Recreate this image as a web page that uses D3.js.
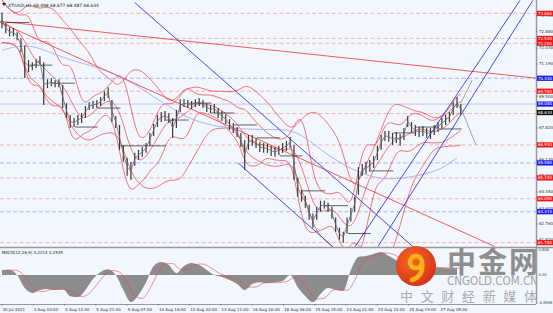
<!DOCTYPE html>
<html><head><meta charset="utf-8">
<script src="https://cdn.jsdelivr.net/npm/d3@7"></script>
<style>html,body{margin:0;padding:0;background:#fff}svg{display:block}</style>
</head><body><svg id="c" width="553" height="313"></svg>
<script>
// ---- price samples (every 4 H1 bars) ----
const hi = [73.91,73.38,73.12,73.07,72.86,72.54,72.18,71.39,71.28,71.44,71.60,71.28,70.39,70.45,70.34,70.39,70.08,69.13,68.50,68.35,68.50,68.61,68.98,69.18,69.24,69.29,69.45,69.76,69.97,69.29,68.45,67.98,66.93,66.25,66.04,66.51,66.67,66.82,67.03,67.56,68.03,68.50,68.66,68.71,68.61,68.35,68.77,69.34,69.34,69.29,69.24,69.34,69.40,69.29,69.13,69.03,69.08,68.87,68.71,68.55,68.29,68.08,67.87,67.56,67.19,67.45,67.45,67.30,67.09,67.03,66.98,66.88,66.82,66.88,67.03,67.14,67.35,66.93,65.20,64.57,64.25,63.78,63.31,63.67,63.99,63.99,63.88,63.67,63.10,62.57,62.36,63.10,63.62,64.20,65.77,65.93,66.04,66.14,66.35,66.88,67.45,67.66,67.66,67.56,67.61,67.51,67.82,68.45,68.14,67.98,67.87,67.93,67.82,67.82,67.98,68.14,68.35,68.50,68.66,69.18,69.45,69.08];
const lo = [73.07,72.81,72.65,72.65,72.44,71.81,70.45,70.76,70.86,70.97,71.18,69.03,69.92,70.02,69.97,69.97,68.87,68.35,67.82,67.87,67.98,68.08,68.35,68.77,68.82,68.87,68.98,69.24,69.40,68.14,67.82,66.67,66.04,65.30,65.09,65.83,66.14,66.30,66.51,66.88,67.40,67.87,68.14,68.19,68.08,67.30,67.82,68.66,68.92,68.87,68.82,68.92,68.98,68.87,68.66,68.61,68.61,68.35,68.19,68.03,67.72,67.56,67.35,66.82,65.62,66.67,66.88,66.77,66.56,66.51,66.51,66.35,66.30,66.40,66.51,66.61,66.77,65.09,64.20,63.94,63.62,62.99,62.57,62.99,63.41,63.57,63.41,63.04,62.36,61.94,61.78,62.26,62.89,63.41,64.30,65.30,65.41,65.51,65.72,66.14,66.67,67.14,67.09,66.93,67.03,66.88,67.19,67.87,67.61,67.40,67.35,67.40,67.30,67.24,67.45,67.61,67.82,67.98,68.14,68.50,68.87,68.50];
const SAMPLE = 4;
// long moving average (lavender), every 16 bars
const maLong = [71.91,72.15,72.15,71.86,71.55,71.29,71.08,70.81,70.45,70.02,69.45,68.98,68.45,68.14,67.93,67.82,67.77,67.74,67.74,67.72,67.35,66.67,66.14,65.67,65.35,65.14,65.14,65.25,65.41,65.67,66.25];
const MA_STEP = 16;
// MACD main, every 8 bars
const macdMain = [0.16,0.16,0,-0.42,-0.58,-0.48,-0.45,-0.48,-0.45,-0.68,-0.71,-0.48,-0.13,0.10,0.19,0,-0.48,-0.87,-0.64,-0.23,0.29,0.42,0.32,0.06,0.29,0.39,0.32,0.16,0,-0.06,-0.16,-0.29,-0.48,-0.29,-0.23,-0.26,-0.23,-0.19,0,-0.39,-0.68,-0.87,-0.61,-0.42,-0.48,-0.51,0.16,0.58,0.61,0.68,0.74,0.61,0.48,0.38,0.30,0.27,0.25,0.24,0.23,0.22,0.22];
const MACD_STEP = 8;
// daily reference levels (one per trading day, 24 bars each, first day starts bar 5)
const dayLevels = [73.38,71.13,70.18,67.87,68.87,66.88,66.88,68.24,69.13,68.61,67.98,67.30,66.35,64.51,63.73,62.26,65.56,67.56,67.87,67.77];
const DAY0 = 5, DAYLEN = 24;
// x-axis labels every 33 bars
const xLabels = ["30 Jul 2021","3 Aug 03:00","4 Aug 12:00","5 Aug 21:00","9 Aug 07:00","10 Aug 16:00","12 Aug 02:00","13 Aug 11:00","16 Aug 20:00","18 Aug 06:00","19 Aug 15:00","23 Aug 01:00","24 Aug 10:00","25 Aug 19:00","27 Aug 05:00"];
const yTicks = [73.72,72.88,72.03,71.19,70.35,69.50,68.66,67.82,66.97,66.13,65.29,64.45,63.60,62.76,61.92];
// horizontal levels: r = red dashed, b = blue dashed, l = lavender solid
const levelPrices = [73.86,72.54,72.28,70.44,69.76,69.08,68.58,66.93,65.98,65.19,64.09,63.41,61.78];
const levelKinds  = ["r","r","r","b","r","l","r","r","b","r","r","b","r"];
const lastPrice = 68.634;
// trend lines [bar0, price0, bar1, price1]
const redLines = [[-2,73.44,563,70.45],[-2,73.38,520,61.57]];
const blueLines = [[140,74.43,433.5,61.57],[249,65.98,349,61.57],[372.4,61.57,546.4,74.54],[396.6,61.57,560,74.54]];
const grayLines = [[484,68.87,500,66.93],[484,69.13,496,70.34]];
const macdTicks = [0.806,0,-0.8998];

const svg = d3.select("#c");
const W=553, H=313, PR=536, MB=247;
const x = d3.scaleLinear().domain([0,484]).range([2,460.8]);
const y = d3.scaleLinear().domain([61.92,73.72]).range([240,16]);
const ym = d3.scaleLinear().domain([-0.8998,0.806]).range([303,250]);

svg.append("rect").attr("width",W).attr("height",H).attr("fill","#f1f7fd");
const defs = svg.append("defs");
defs.append("clipPath").attr("id","cm").append("rect").attr("x",0).attr("y",0).attr("width",PR).attr("height",MB);
defs.append("clipPath").attr("id","cd").append("rect").attr("x",0).attr("y",MB+1).attr("width",PR).attr("height",304-MB-1);

const gm = svg.append("g").attr("clip-path","url(#cm)");

// levels
const lvlColor = {r:"#f3a3a6", b:"#9d9df0", l:"#b9b9f3"};
levelPrices.forEach((p,k)=>{
  gm.append("line").attr("x1",0).attr("x2",PR).attr("y1",y(p)).attr("y2",y(p))
    .attr("stroke",lvlColor[levelKinds[k]]).attr("stroke-width",0.8)
    .attr("stroke-dasharray",levelKinds[k]==="l"?null:"4,2.5");
});

// bollinger bands computed from the price samples
const mids = hi.map((h,i)=>(h+lo[i])/2);
function bands(period,k){
  const raw = mids.map((_,i)=>{
    const s=Math.max(0,i-period+1), w=[];
    for(let j=s;j<=i;j++){w.push(hi[j],lo[j]);}
    const m=d3.mean(w), sd=d3.deviation(w)||0;
    return {i, m, u:m+k*sd, l:m-k*sd};
  });
  // light 3-point smoothing to mimic the hourly step
  return raw.map((d,i)=>{
    const a=raw[Math.max(0,i-1)], c=raw[Math.min(raw.length-1,i+1)];
    return {i:d.i, m:(a.m+2*d.m+c.m)/4, u:(a.u+2*d.u+c.u)/4, l:(a.l+2*d.l+c.l)/4};
  });
}
const lineB = key => d3.line().x(d=>x(d.i*SAMPLE)).y(d=>y(d[key])).curve(d3.curveBasis);
const b1 = bands(5,2), b2 = bands(15,2);
["u","l","m"].forEach(k=>{
  gm.append("path").datum(b1).attr("d",lineB(k)).attr("fill","none").attr("stroke","#ef3b3b").attr("stroke-width",0.7);
});
["u","l"].forEach(k=>{
  gm.append("path").datum(b2).attr("d",lineB(k)).attr("fill","none").attr("stroke","#ef3b3b").attr("stroke-width",0.7);
});

// long MA
gm.append("path").datum(maLong).attr("d",d3.line().x((d,i)=>x(i*MA_STEP)).y(d=>y(d)).curve(d3.curveBasis))
  .attr("fill","none").attr("stroke","#a9a9ee").attr("stroke-width",0.9);

// trend lines
const seg = (g,arr,col,w)=>arr.forEach(a=>g.append("line").attr("x1",x(a[0])).attr("y1",y(a[1])).attr("x2",x(a[2])).attr("y2",y(a[3])).attr("stroke",col).attr("stroke-width",w));
seg(gm,redLines,"#ef4b4b",0.9);
seg(gm,blueLines,"#3535e0",0.9);
seg(gm,grayLines,"#8a8a8a",0.8);

// day levels
dayLevels.forEach((p,d)=>{
  gm.append("line").attr("x1",x(DAY0+d*DAYLEN)).attr("x2",x(DAY0+(d+1)*DAYLEN)).attr("y1",y(p)).attr("y2",y(p))
   .attr("stroke","#222").attr("stroke-width",0.7);
});

// price bars
const gp = gm.append("g");
hi.forEach((h,i)=>{
  gp.append("line").attr("x1",x(i*SAMPLE)).attr("x2",x(i*SAMPLE)).attr("y1",y(h)).attr("y2",y(lo[i]))
    .attr("stroke","#3a3a3a").attr("stroke-width",1.2);
});
gp.append("path").datum(mids).attr("d",d3.line().x((d,i)=>x(i*SAMPLE)).y(d=>y(d)))
  .attr("fill","none").attr("stroke","#6a6a6a").attr("stroke-width",0.8);

// separators
svg.append("line").attr("x1",0).attr("x2",W).attr("y1",MB+0.5).attr("y2",MB+0.5).attr("stroke","#9a9a9a").attr("stroke-width",1.5);
svg.append("line").attr("x1",PR+0.5).attr("x2",PR+0.5).attr("y1",0).attr("y2",304).attr("stroke","#9a9a9a").attr("stroke-width",1.5);
svg.append("line").attr("x1",0).attr("x2",PR).attr("y1",304.5).attr("y2",304.5).attr("stroke","#9a9a9a").attr("stroke-width",1);

// y axis labels
const fnt = "DejaVu Sans, Tahoma, sans-serif";
yTicks.forEach(v=>{
  svg.append("line").attr("x1",PR).attr("x2",PR+2).attr("y1",y(v)).attr("y2",y(v)).attr("stroke","#666").attr("stroke-width",0.5);
  svg.append("text").attr("x",PR+3).attr("y",y(v)+1.4).attr("font-size",4).attr("font-family",fnt).attr("fill","#333").text(v.toFixed(3));
});
// level label boxes
const boxColor = {r:"#f01818", b:"#1c1cf0", l:"#1c1cf0"};
levelPrices.forEach((p,k)=>{
  const col = k===6 ? "#111" : boxColor[levelKinds[k]];
  const val = k===6 ? lastPrice : p;
  svg.append("rect").attr("x",PR+1).attr("y",y(val)-2.6).attr("width",16).attr("height",5.2).attr("fill",col);
  svg.append("text").attr("x",PR+2).attr("y",y(val)+1.4).attr("font-size",4).attr("font-family",fnt).attr("fill","#fff").text(val.toFixed(3));
});

// header
svg.append("path").attr("d","M2,3 L6,3 L4,6 Z").attr("fill","#222");
svg.append("text").attr("x",8).attr("y",6.5).attr("font-size",4.4).attr("font-family",fnt).attr("fill","#222")
  .text("XTIUSD,H1  68.498 68.677 68.487 68.634");

// MACD panel
const gd = svg.append("g").attr("clip-path","url(#cd)");
const signal = macdMain.map((v,i)=>i===0?v:(v+macdMain[i-1])/2);
gd.append("path").datum(macdMain).attr("d",d3.area().x((d,i)=>x(i*MACD_STEP)).y0(ym(0)).y1(d=>ym(d)).curve(d3.curveMonotoneX))
  .attr("fill","#8c8c8c");
gd.append("path").datum(signal).attr("d",d3.line().x((d,i)=>x(i*MACD_STEP+4)).y(d=>ym(d)).curve(d3.curveMonotoneX))
  .attr("fill","none").attr("stroke","#e84a4a").attr("stroke-width",0.6);
svg.append("text").attr("x",2).attr("y",254).attr("font-size",4).attr("font-family",fnt).attr("fill","#222")
  .text("MACD(12,26,9) 0.2214 0.2535");
macdTicks.forEach(v=>{
  svg.append("text").attr("x",PR+2.5).attr("y",ym(v)+1.4).attr("font-size",3.6).attr("font-family",fnt).attr("fill","#333")
    .text(v===0?"0.00":v.toString());
});

// x axis
xLabels.forEach((t,k)=>{
  const xx = x(k*33);
  svg.append("line").attr("x1",xx).attr("x2",xx).attr("y1",304).attr("y2",306).attr("stroke","#666").attr("stroke-width",0.5);
  svg.append("text").attr("x",xx+0.5).attr("y",310.5).attr("font-size",4).attr("font-family",fnt).attr("fill","#333").text(t);
});

// watermark logo
const lg = svg.append("g");
const grad = defs.append("radialGradient").attr("id","lgrad").attr("cx","40%").attr("cy","35%").attr("r","70%");
grad.append("stop").attr("offset","0%").attr("stop-color","#f36a22");
grad.append("stop").attr("offset","100%").attr("stop-color","#d8301a");
lg.append("circle").attr("cx",416).attr("cy",266).attr("r",20).attr("fill","url(#lgrad)");
lg.append("path").attr("d","M416,256 a6,6 0 1,1 -0.1,0 M422,262 q2,14 -10,18")
  .attr("fill","none").attr("stroke","#f7b21a").attr("stroke-width",4.5).attr("stroke-linecap","round");
lg.append("text").attr("x",447).attr("y",272.5).attr("font-size",29).attr("font-weight","bold")
  .attr("font-family","Noto Sans CJK SC, sans-serif").attr("fill","#8e8e8e").attr("textLength",91).text("中金网");
lg.append("text").attr("x",447).attr("y",285).attr("font-size",12).attr("font-family","DejaVu Sans, sans-serif")
  .attr("fill","#a2a2a2").attr("textLength",91).attr("lengthAdjust","spacingAndGlyphs").text("CNGOLD.COM.CN");
lg.append("text").attr("x",400).attr("y",301).attr("font-size",13).attr("font-family","Noto Sans CJK SC, sans-serif")
  .attr("fill","#ababab").attr("textLength",137).text("中文财经新媒体");
</script></body></html>
